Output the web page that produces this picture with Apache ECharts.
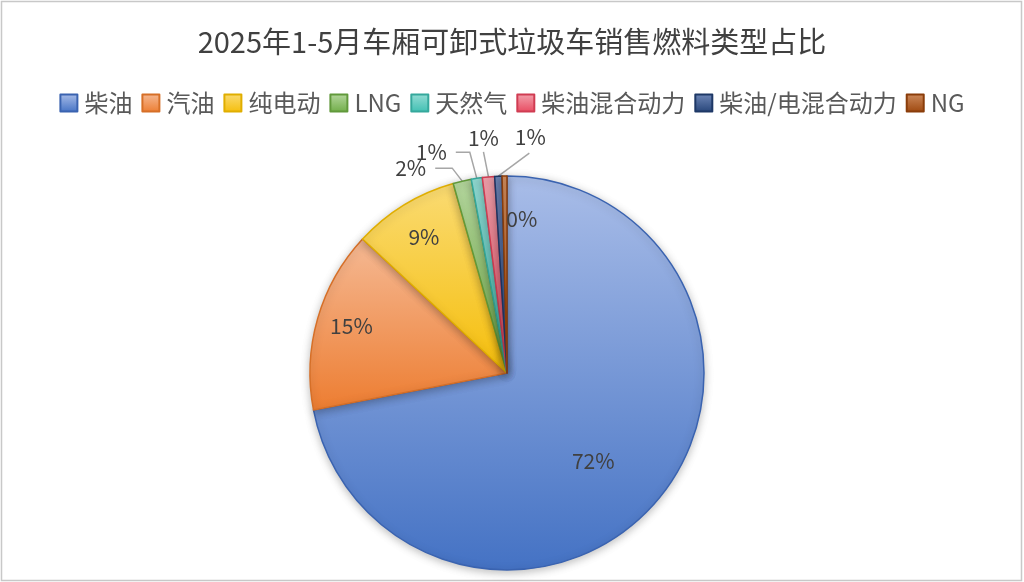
<!DOCTYPE html>
<html>
<head>
<meta charset="utf-8">
<script src="https://cdn.jsdelivr.net/npm/echarts@6/dist/echarts.min.js"></script>
<style>
  html, body { margin: 0; padding: 0; background: #ffffff; }
  #chart { width: 1024px; height: 582px; }
</style>
</head>
<body>
<div id="chart"></div>
<script>
// ---- data ----
const titleText = '2025年1-5月车厢可卸式垃圾车销售燃料类型占比';
const categories = ['柴油', '汽油', '纯电动', 'LNG', '天然气', '柴油混合动力', '柴油/电混合动力', 'NG'];
const shares = [72.0, 14.9, 8.7, 1.5, 0.9, 1.0, 0.6, 0.4];

// ---- styles ----
const baseColors = ['#4472C4', '#ED7D31', '#F5BE0B', '#70AD47', '#3FBFB2', '#E84A60', '#264478', '#9E480E'];
const topColors  = ['#A9BDE8', '#F5B994', '#FADB73', '#B5D79E', '#95DDD5', '#F2A2AD', '#6F87B8', '#CD8A5C'];
const edgeColors = ['#3A63B0', '#D66F27', '#E0AE00', '#61993B', '#35A89C', '#D03C52', '#1E3866', '#8A3D0A'];
const labelPos   = ['inside', 'inside', 'inside', 'outside', 'outside', 'outside', 'outside', 'inside'];
const insideOffsets = { 0: [8, 23], 1: [-58, -19], 2: [-30, -49], 7: [16, -52] };
// leader lines relative to the slice edge point that ECharts computes
const leaderStyle = {
  3: { pts: [[-10, -13], [-27, -13]], text: [-36, -13], align: 'right' },
  4: { pts: [[-7, -26], [-21, -26]], text: [-30, -26], align: 'right' },
  5: { pts: [[-5, -25], [-5, -25]], text: [-5, -39], align: 'center' },
  6: { pts: [[31, -23], [31, -23]], text: [32, -39], align: 'center' }
};

const chart = echarts.init(document.getElementById('chart'));

const pieData = categories.map((name, i) => {
  const item = {
    name: name,
    value: shares[i],
    itemStyle: {
      color: {
        type: 'linear', x: 0, y: 0, x2: 0, y2: 1,
        colorStops: [
          { offset: 0, color: topColors[i] },
          { offset: 1, color: baseColors[i] }
        ]
      },
      borderColor: edgeColors[i],
      borderWidth: 1.5
    },
    label: { position: labelPos[i] },
    labelLine: { show: labelPos[i] === 'outside' }
  };
  if (insideOffsets[i]) item.label.offset = insideOffsets[i];
  return item;
});

const option = {
  backgroundColor: '#ffffff',
  animation: false,
  title: {
    text: titleText,
    left: 'center',
    top: 22,
    textStyle: {
      fontFamily: '"Noto Sans CJK SC", "Noto Sans", sans-serif',
      fontSize: 29,
      fontWeight: 'normal',
      color: '#404040'
    }
  },
  legend: {
    data: categories,
    left: 'center',
    top: 86,
    itemWidth: 17,
    itemHeight: 17,
    itemGap: 9,
    icon: 'rect',
    textStyle: {
      fontFamily: '"Noto Sans CJK SC", "Noto Sans", sans-serif',
      fontSize: 24,
      color: '#595959',
      padding: [0, 0, 0, 2]
    }
  },
  graphic: [{
    type: 'rect',
    shape: { x: 1.5, y: 1.5, width: 1020, height: 579 },
    style: { fill: 'none', stroke: '#c8c8c8', lineWidth: 1.5 },
    silent: true
  }],
  series: [{
    type: 'pie',
    center: [507, 373],
    radius: [0, 197],
    startAngle: 90,
    clockwise: true,
    avoidLabelOverlap: false,
    data: pieData,
    itemStyle: {
      shadowBlur: 8,
      shadowColor: 'rgba(0,0,0,0.25)',
      shadowOffsetY: 2
    },
    emphasis: { disabled: true },
    label: {
      show: true,
      formatter: p => Math.round(p.value) + '%',
      fontFamily: '"Noto Sans CJK SC", "Noto Sans", sans-serif',
      fontSize: 21,
      color: '#404040'
    },
    labelLine: {
      show: true,
      length: 10,
      length2: 10,
      lineStyle: { color: '#A6A6A6', width: 1.5 }
    },
    labelLayout: function (params) {
      const s = leaderStyle[params.dataIndex];
      if (!s || !params.labelLinePoints) return {};
      const p0 = params.labelLinePoints[0];
      const pts = [p0].concat(s.pts.map(d => [p0[0] + d[0], p0[1] + d[1]]));
      return {
        x: p0[0] + s.text[0],
        y: p0[1] + s.text[1],
        align: s.align,
        verticalAlign: 'middle',
        labelLinePoints: pts
      };
    }
  }]
};

chart.setOption(option);
</script>
</body>
</html>
